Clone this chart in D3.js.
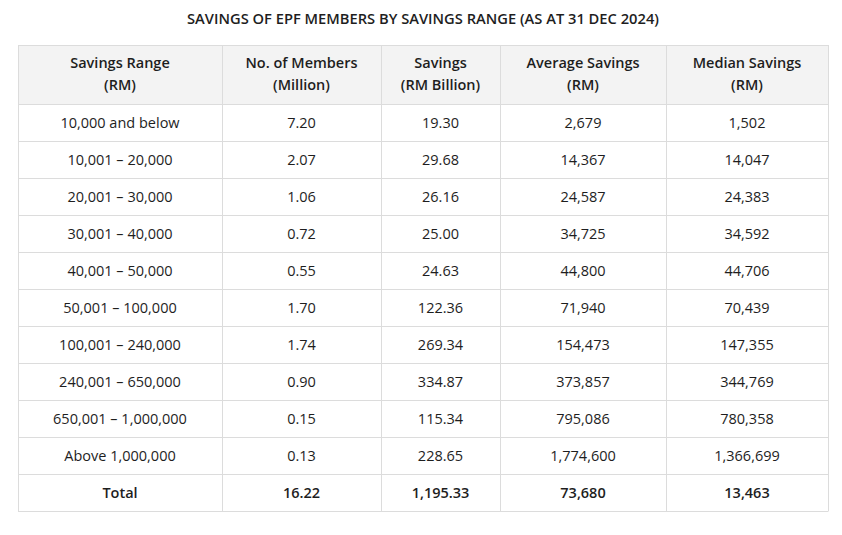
<!DOCTYPE html>
<html>
<head>
<meta charset="utf-8">
<script src="https://cdn.jsdelivr.net/npm/d3@7"></script>
<style>
  body { margin: 0; background: #fff; }
  svg { font-family: "Open Sans", sans-serif; }
</style>
</head>
<body>
<svg id="chart"></svg>
<script>
const title = 'SAVINGS OF EPF MEMBERS BY SAVINGS RANGE (AS AT 31 DEC 2024)';

const headers = [
  ['Savings Range', '(RM)'],
  ['No. of Members', '(Million)'],
  ['Savings', '(RM Billion)'],
  ['Average Savings', '(RM)'],
  ['Median Savings', '(RM)'],
];

const ranges = [
  '10,000 and below', '10,001 – 20,000', '20,001 – 30,000', '30,001 – 40,000',
  '40,001 – 50,000', '50,001 – 100,000', '100,001 – 240,000', '240,001 – 650,000',
  '650,001 – 1,000,000', 'Above 1,000,000',
];
const members = ['7.20', '2.07', '1.06', '0.72', '0.55', '1.70', '1.74', '0.90', '0.15', '0.13'];
const savings = ['19.30', '29.68', '26.16', '25.00', '24.63', '122.36', '269.34', '334.87', '115.34', '228.65'];
const average = ['2,679', '14,367', '24,587', '34,725', '44,800', '71,940', '154,473', '373,857', '795,086', '1,774,600'];
const median = ['1,502', '14,047', '24,383', '34,592', '44,706', '70,439', '147,355', '344,769', '780,358', '1,366,699'];
const totals = ['Total', '16.22', '1,195.33', '73,680', '13,463'];

// layout stuff
const width = 842;
const height = 535;
const left = 18;
const col_widths = [204, 159, 119, 166, 162];
const header_top = 45;
const header_h = 59;
const row_h = 37;
const font_size = 14.5;
const border = '#dcdcdc';
const ink = '#1e1e1e';

const rows = ranges.map((r, i) => [r, members[i], savings[i], average[i], median[i]]);
rows.push(totals);

const svg = d3.select('#chart')
  .attr('width', width)
  .attr('height', height);

// column edges from cumulative widths
const col_edges = d3.cumsum([left].concat(col_widths));
const cx = (i) => (col_edges[i] + col_edges[i + 1]) / 2;
const table_right = col_edges[col_edges.length - 1];

const y = d3.scaleBand()
  .domain(d3.range(rows.length))
  .range([header_top + header_h, header_top + header_h + row_h * rows.length]);

svg.append('text')
  .attr('x', (left + table_right) / 2)
  .attr('y', 24)
  .attr('text-anchor', 'middle')
  .attr('font-size', 14.7)
  .attr('font-weight', 600)
  .attr('fill', ink)
  .text(title);

// header
svg.append('rect')
  .attr('x', left)
  .attr('y', header_top)
  .attr('width', table_right - left)
  .attr('height', header_h)
  .attr('fill', '#f3f3f3');

const head = svg.selectAll('.head')
    .data(headers)
  .enter().append('text')
    .attr('class', 'head')
    .attr('text-anchor', 'middle')
    .attr('font-size', font_size)
    .attr('font-weight', 600)
    .attr('fill', ink);

head.append('tspan')
  .attr('x', (d, i) => cx(i))
  .attr('y', header_top + 23)
  .text((d) => d[0]);
head.append('tspan')
  .attr('x', (d, i) => cx(i))
  .attr('y', header_top + 45)
  .text((d) => d[1]);

// body rows
const row = svg.selectAll('.row')
    .data(rows)
  .enter().append('g')
    .attr('class', 'row')
    .attr('transform', (d, i) => `translate(0, ${y(i)})`);

row.selectAll('text')
    .data((d, i) => d.map((v) => ({ v, total: i === rows.length - 1 })))
  .enter().append('text')
    .attr('x', (d, i) => cx(i))
    .attr('y', y.bandwidth() / 2 + 5)
    .attr('text-anchor', 'middle')
    .attr('font-size', font_size)
    .attr('font-weight', (d) => (d.total ? 600 : 400))
    .attr('fill', ink)
    .text((d) => d.v);

// grid lines
const table_bottom = y.range()[1];
const h_lines = [header_top, header_top + header_h].concat(d3.range(rows.length).map((i) => y(i) + row_h));

svg.selectAll('.hline')
    .data(h_lines)
  .enter().append('line')
    .attr('x1', left)
    .attr('x2', table_right)
    .attr('y1', (d) => d + 0.5)
    .attr('y2', (d) => d + 0.5)
    .attr('stroke', border);

svg.selectAll('.vline')
    .data(col_edges)
  .enter().append('line')
    .attr('x1', (d) => d + 0.5)
    .attr('x2', (d) => d + 0.5)
    .attr('y1', header_top)
    .attr('y2', table_bottom + 0.5)
    .attr('stroke', border);
</script>
</body>
</html>
